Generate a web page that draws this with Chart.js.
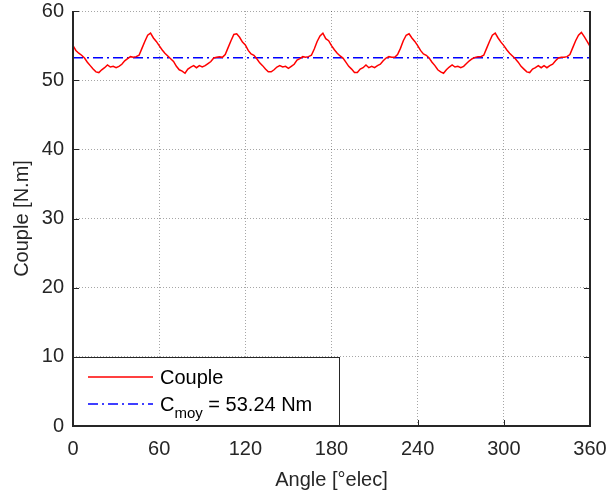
<!DOCTYPE html>
<html>
<head>
<meta charset="utf-8">
<script src="https://cdn.jsdelivr.net/npm/chart.js@4"></script>
<style>
  html, body { margin: 0; padding: 0; background: #fff; }
  #wrap { width: 607px; height: 497px; }
</style>
</head>
<body>
<div id="wrap"><canvas id="chart" width="607" height="497"></canvas></div>
<script>
// angle in degrees (elec), one sample every 2 degrees
const angles = [];
for (let a = 0; a <= 360; a += 2) angles.push(a);

// torque, period by period (0-60, 60-120, ...)
const couple = [
  55.0, 54.3, 53.9, 53.6, 53.2, 52.6, 52.1, 51.6, 51.2, 51.1, 51.5, 51.8, 52.2, 51.9, 52.0, 51.8,
  52.0, 52.3, 52.8, 53.1, 53.4, 53.3, 53.4, 53.6, 54.6, 55.6, 56.5, 56.8, 56.1, 55.6,
  55.0, 54.4, 53.9, 53.5, 53.1, 52.7, 52.0, 51.5, 51.3, 51.0, 51.6, 51.9, 52.1, 51.8, 52.1, 51.9,
  52.1, 52.4, 52.7, 53.2, 53.3, 53.4, 53.3, 53.7, 54.7, 55.7, 56.6, 56.7, 56.2, 55.5,
  55.1, 54.3, 53.8, 53.6, 53.1, 52.5, 52.1, 51.6, 51.2, 51.2, 51.5, 51.9, 52.1, 51.9, 52.0, 51.7,
  52.0, 52.3, 52.9, 53.1, 53.4, 53.3, 53.4, 53.6, 54.5, 55.6, 56.4, 56.8, 56.0, 55.7,
  55.0, 54.4, 53.9, 53.5, 53.2, 52.6, 52.0, 51.6, 51.1, 51.1, 51.6, 51.8, 52.2, 51.8, 52.0, 51.8,
  52.1, 52.3, 52.8, 53.2, 53.4, 53.3, 53.3, 53.7, 54.6, 55.7, 56.5, 56.7, 56.1, 55.6,
  55.0, 54.3, 53.8, 53.6, 53.2, 52.6, 52.1, 51.5, 51.2, 51.0, 51.5, 51.9, 52.2, 51.9, 52.0, 51.8,
  52.0, 52.4, 52.8, 53.1, 53.3, 53.4, 53.4, 53.6, 54.6, 55.6, 56.5, 56.8, 56.1, 55.5,
  55.0, 54.4, 53.9, 53.5, 53.1, 52.6, 52.0, 51.6, 51.2, 51.1, 51.6, 51.8, 52.1, 51.8, 52.1, 51.8,
  52.1, 52.3, 52.8, 53.2, 53.3, 53.3, 53.4, 53.7, 54.7, 55.7, 56.5, 56.9, 56.3, 55.6,
  54.9
];

const cMoy = 53.24;
const xTicks = [0, 60, 120, 180, 240, 300, 360];
const yTicks = [0, 10, 20, 30, 40, 50, 60];

const textColor = '#262626';
const font = 'Liberation Sans, Arial, Helvetica, sans-serif';

const matlabFrame = {
  id: 'matlabFrame',
  afterDraw(chart) {
    const { ctx, chartArea: a, scales } = chart;
    ctx.save();
    ctx.strokeStyle = textColor;
    ctx.lineWidth = 2;
    ctx.beginPath();
    ctx.moveTo(a.left, a.top);
    ctx.lineTo(a.left, a.bottom);
    ctx.lineTo(a.right, a.bottom);
    ctx.lineTo(a.right, a.top);
    ctx.stroke();
    // inward ticks
    ctx.lineWidth = 1;
    ctx.beginPath();
    yTicks.forEach(v => {
      const y = Math.round(scales.y.getPixelForValue(v)) + 0.5;
      ctx.moveTo(a.left, y); ctx.lineTo(a.left + 6, y);
      ctx.moveTo(a.right, y); ctx.lineTo(a.right - 6, y);
    });
    xTicks.forEach(v => {
      const x = Math.round(scales.x.getPixelForValue(v)) + 0.5;
      ctx.moveTo(x, a.bottom); ctx.lineTo(x, a.bottom - 6);
    });
    ctx.stroke();

    // legend box
    const lx = a.left, ly = a.bottom - 69, lw = 267, lh = 69;
    ctx.fillStyle = '#fff';
    ctx.fillRect(lx, ly, lw, lh);
    ctx.strokeStyle = textColor;
    ctx.lineWidth = 1;
    ctx.strokeRect(lx + 0.5, ly + 0.5, lw - 1, lh - 1);

    ctx.lineWidth = 1.5;
    ctx.strokeStyle = '#ff0000';
    ctx.beginPath();
    ctx.moveTo(lx + 15, ly + 20); ctx.lineTo(lx + 80, ly + 20);
    ctx.stroke();
    ctx.strokeStyle = '#0000ff';
    ctx.setLineDash([10, 4, 2, 4]);
    ctx.beginPath();
    ctx.moveTo(lx + 15, ly + 47); ctx.lineTo(lx + 80, ly + 47);
    ctx.stroke();
    ctx.setLineDash([]);

    ctx.fillStyle = '#000';
    ctx.textBaseline = 'alphabetic';
    ctx.textAlign = 'left';
    ctx.font = '20px ' + font;
    ctx.fillText('Couple', lx + 87, ly + 27);
    let tx = lx + 87;
    ctx.fillText('C', tx, ly + 54);
    tx += ctx.measureText('C').width;
    ctx.font = '15px ' + font;
    ctx.fillText('moy', tx, ly + 61);
    tx += ctx.measureText('moy').width;
    ctx.font = '20px ' + font;
    ctx.fillText(' = 53.24 Nm', tx, ly + 54);
    ctx.restore();
  }
};

new Chart(document.getElementById('chart'), {
  type: 'line',
  data: {
    datasets: [
      {
        label: 'Couple',
        data: angles.map((a, i) => ({ x: a, y: couple[i] })),
        borderColor: '#ff0000',
        borderWidth: 1.5,
        pointRadius: 0,
        tension: 0
      },
      {
        label: 'C_moy = 53.24 Nm',
        data: [{ x: 0, y: cMoy }, { x: 360, y: cMoy }],
        borderColor: '#0000ff',
        borderWidth: 1.5,
        borderDash: [10, 4, 2, 4],
        pointRadius: 0
      }
    ]
  },
  options: {
    responsive: false,
    animation: false,
    layout: { padding: { top: 11, right: 17, left: 10, bottom: 5 } },
    plugins: {
      legend: { display: false },
      tooltip: { enabled: false }
    },
    scales: {
      x: {
        type: 'linear',
        min: 0, max: 360,
        afterBuildTicks: s => { s.ticks = xTicks.map(v => ({ value: v })); },
        afterFit: s => { s.height = 66; s.paddingLeft = 0; s.paddingRight = 0; },
        grid: { color: 'rgba(0,0,0,0.35)', drawTicks: false, lineWidth: 1 },
        border: { display: false, dash: [1, 2] },
        ticks: { color: textColor, font: { family: font, size: 20 }, padding: 11, maxRotation: 0 },
        title: { display: true, text: 'Angle [°elec]', color: textColor, font: { family: font, size: 20 }, padding: { top: 0, bottom: 0 } }
      },
      y: {
        min: 0, max: 60,
        afterBuildTicks: s => { s.ticks = yTicks.map(v => ({ value: v })); },
        afterFit: s => { s.width = 63; s.paddingTop = 0; s.paddingBottom = 0; },
        grid: { color: 'rgba(0,0,0,0.35)', drawTicks: false, lineWidth: 1 },
        border: { display: false, dash: [1, 2] },
        ticks: { color: textColor, font: { family: font, size: 20 }, padding: 9 },
        title: { display: true, text: 'Couple [N.m]', color: textColor, font: { family: font, size: 20 }, padding: { top: 0, bottom: 0 } }
      }
    }
  },
  plugins: [matlabFrame]
});
</script>
</body>
</html>
